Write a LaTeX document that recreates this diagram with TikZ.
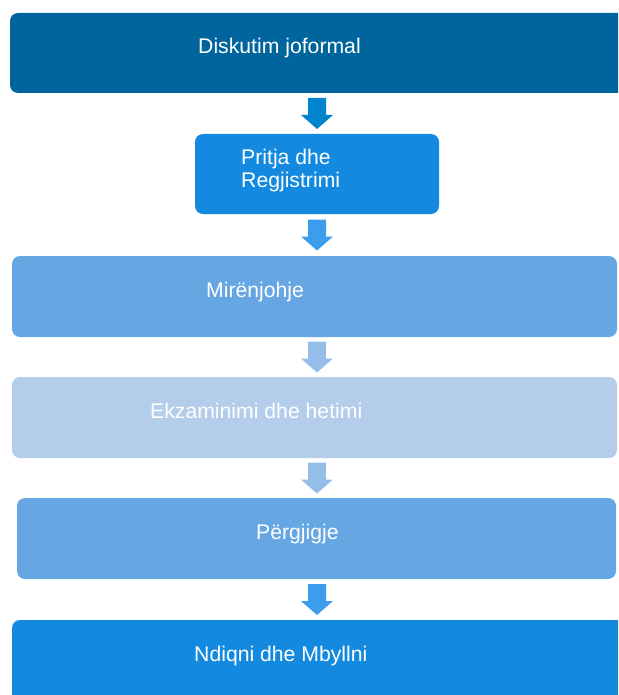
\documentclass[tikz,border=0pt]{standalone}
\usepackage{fontspec}
\setmainfont{Liberation Sans}
\usetikzlibrary{calc}
\definecolor{cA}{HTML}{00659D}
\definecolor{cB}{HTML}{138ADF}
\definecolor{cC}{HTML}{65A6E3}
\definecolor{cD}{HTML}{B3CDEB}
\definecolor{aA}{HTML}{0084CE}
\definecolor{aB}{HTML}{3B9DEB}
\definecolor{aC}{HTML}{94BDEA}
\newcommand\blockarr[2]{%
  \fill[#2] ($(#1)+(-9,-15.5)$) -- ($(#1)+(9,-15.5)$) -- ($(#1)+(9,1.5)$) -- ($(#1)+(16,1.5)$)
    -- ($(#1)+(0,15.5)$) -- ($(#1)+(-16,1.5)$) -- ($(#1)+(-9,1.5)$) -- cycle;}
\begin{document}
\begin{tikzpicture}[x=1pt,y=-1pt,
  box/.style={rounded corners=8pt, inner sep=0pt, outer sep=0pt, anchor=north west, draw=none},
  lbl/.style={text=white, font=\fontsize{21.2}{23}\selectfont, inner sep=0pt, anchor=base west, align=left}]
\useasboundingbox (0,0) rectangle (618,695);
\clip (0,0) rectangle (618,695);
\coordinate (ax) at (317,0);
% boxes
\node[box, fill=cA, minimum width=616pt, minimum height=80pt] (b1) at (10,13) {};
\node[box, fill=cB, minimum width=244pt, minimum height=80pt] (b2) at (195,134) {};
\node[box, fill=cC, minimum width=605pt, minimum height=81pt] (b3) at (12,256) {};
\node[box, fill=cD, minimum width=605pt, minimum height=81pt] (b4) at (12,377) {};
\node[box, fill=cC, minimum width=599pt, minimum height=81pt] (b5) at (17,498) {};
\node[box, fill=cB, minimum width=616pt, minimum height=90pt] (b6) at (12,620) {};
% texts
\node[lbl] (t1) at (198,54) {Diskutim joformal};
\node[lbl] (t2) at (241,187) {Pritja dhe\\Regjistrimi};
\node[lbl] (t3) at (206,297) {Mirënjohje};
\node[lbl] (t4) at (150,418) {Ekzaminimi dhe hetimi};
\node[lbl] (t5) at (256,539) {Përgjigje};
\node[lbl] (t6) at (194,661) {Ndiqni dhe Mbyllni};
% arrows
\coordinate (m1) at ($(b1.south -| ax)!0.5!(b2.north -| ax)$);
\coordinate (m2) at ($(b2.south -| ax)!0.5!(b3.north -| ax)$);
\coordinate (m3) at ($(b3.south -| ax)!0.5!(b4.north -| ax)$);
\coordinate (m4) at ($(b4.south -| ax)!0.5!(b5.north -| ax)$);
\coordinate (m5) at ($(b5.south -| ax)!0.5!(b6.north -| ax)$);
\blockarr{m1}{aA}
\blockarr{m2}{aB}
\blockarr{m3}{aC}
\blockarr{m4}{aC}
\blockarr{m5}{aB}
\end{tikzpicture}
\end{document}
